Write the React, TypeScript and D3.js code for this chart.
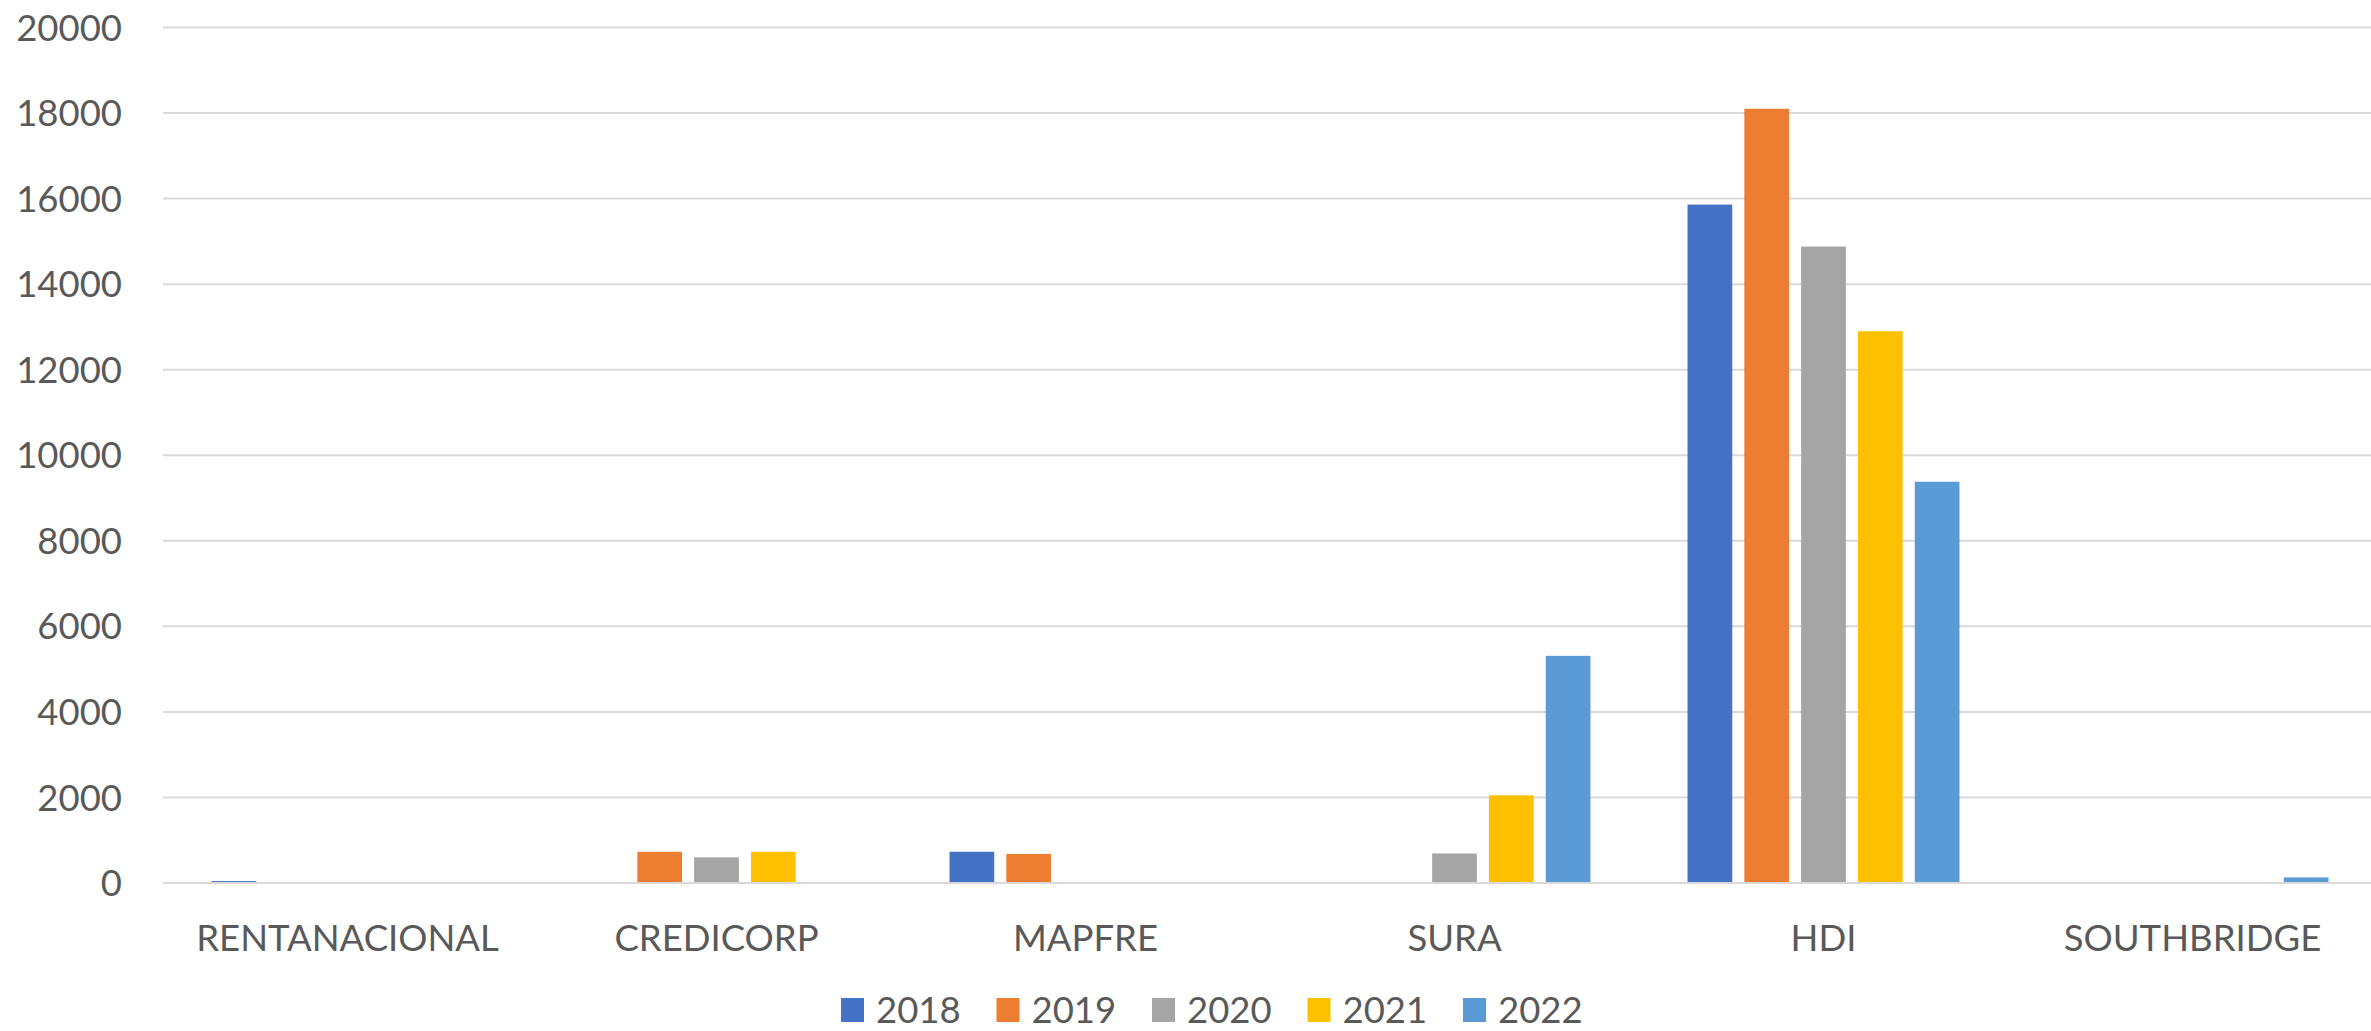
import { useEffect } from "react";
import * as d3 from "d3";

// ── Data ──────────────────────────────────────────────────────────────────────

const CATEGORIES = ["RENTANACIONAL", "CREDICORP", "MAPFRE", "SURA", "HDI", "SOUTHBRIDGE"];
const SERIES     = ["2018", "2019", "2020", "2021", "2022"];

const V2018 = [45, 0, 730, 0, 15860, 0];
const V2019 = [0, 730, 680, 0, 18100, 0];
const V2020 = [0, 600, 0, 690, 14880, 0];
const V2021 = [0, 730, 0, 2050, 12900, 0];
const V2022 = [0, 0, 0, 5310, 9380, 130];

const VALUES = [V2018, V2019, V2020, V2021, V2022];

const Y_TICKS = d3.range(0, 20001, 2000);

// ── Config ────────────────────────────────────────────────────────────────────

const W = 2371;
const H = 1031;
const COLORS = ["#4472C4", "#ED7D31", "#A5A5A5", "#FFC000", "#5B9BD5"];
const TEXT   = "#595959";
const GRID   = "#D9D9D9";
const FONT   = "Lato, 'Open Sans', sans-serif";
const FS     = 36.5;

const PLOT = { left: 163, right: 2377, top: 27.5, bottom: 883 };

// ── Component ─────────────────────────────────────────────────────────────────

export default function App() {
  useEffect(() => {
    document.body.style.margin = "0";
    document.body.style.overflow = "hidden";
  }, []);

  const x0 = d3.scaleBand().domain(CATEGORIES).range([PLOT.left, PLOT.right]);
  const groupW = x0.bandwidth() * 0.737;
  const groupOff = (x0.bandwidth() - groupW) / 2;
  const x1 = d3.scaleBand().domain(SERIES).range([0, groupW]).paddingInner(0.213).paddingOuter(0);
  const y = d3.scaleLinear().domain([0, 20000]).range([PLOT.bottom, PLOT.top]);

  const legendStart = 841;
  const legendStep  = 155.5;
  const legendBase  = 1023;

  return (
    <svg width={W} height={H} style={{ display: "block", background: "#fff" }} fontFamily={FONT}>
      {/* Grid + y labels */}
      {Y_TICKS.map((t) => (
        <g key={t}>
          <line x1={PLOT.left} x2={PLOT.right} y1={y(t)} y2={y(t)} stroke={GRID} strokeWidth={2} />
          <text x={122} y={y(t) + FS * 0.36} textAnchor="end" fontSize={FS} fill={TEXT}>{t}</text>
        </g>
      ))}

      {/* Bars */}
      {SERIES.map((s, si) => (
        <g key={s} fill={COLORS[si]}>
          {CATEGORIES.map((c, ci) => {
            const v = VALUES[si][ci];
            if (!v) return null;
            const bx = (x0(c) ?? 0) + groupOff + (x1(s) ?? 0);
            return <rect key={c} x={bx} y={y(v)} width={x1.bandwidth()} height={y(0) - y(v)} />;
          })}
        </g>
      ))}

      {/* Baseline */}
      <line x1={PLOT.left} x2={PLOT.right} y1={y(0)} y2={y(0)} stroke={GRID} strokeWidth={2} />

      {/* Category labels */}
      {CATEGORIES.map((c) => (
        <text key={c} x={(x0(c) ?? 0) + x0.bandwidth() / 2} y={951} textAnchor="middle" fontSize={FS} fill={TEXT}>{c}</text>
      ))}

      {/* Legend */}
      {SERIES.map((s, si) => {
        const lx = legendStart + si * legendStep;
        return (
          <g key={s}>
            <rect x={lx} y={legendBase - 25} width={23} height={24} fill={COLORS[si]} />
            <text x={lx + 35} y={legendBase} fontSize={FS} fill={TEXT}>{s}</text>
          </g>
        );
      })}
    </svg>
  );
}
